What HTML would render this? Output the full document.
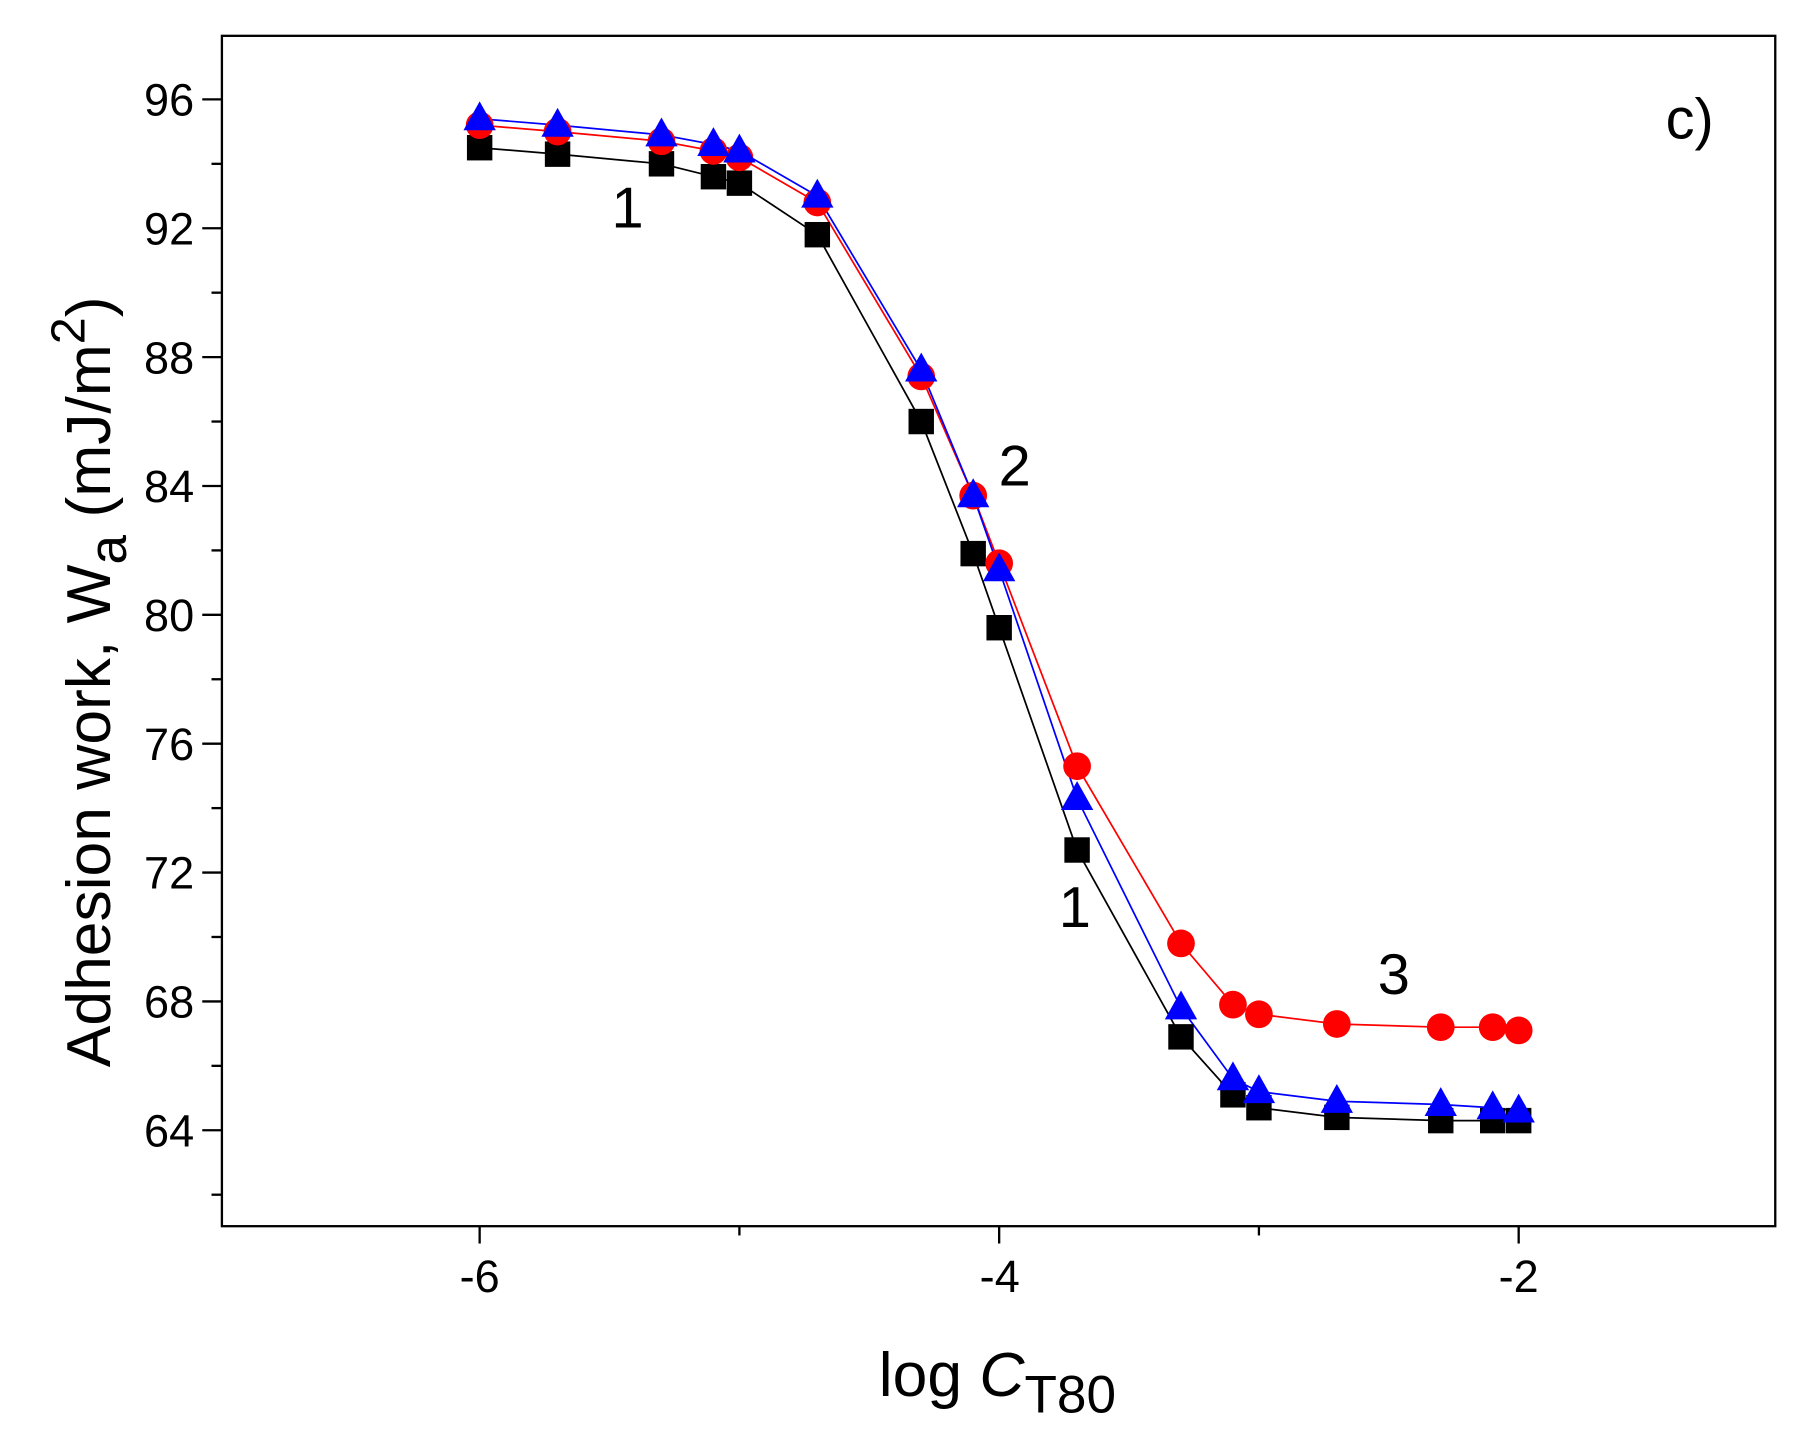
<!DOCTYPE html>
<html><head><meta charset="utf-8"><style>html,body{margin:0;padding:0;background:#fff}svg{display:block}</style></head>
<body>
<svg id="s" width="1803" height="1440" viewBox="0 0 1560 1246" preserveAspectRatio="none" xmlns="http://www.w3.org/2000/svg" font-family="Liberation Sans, Arial, sans-serif">
<rect x="192" y="31" width="1344" height="1030" fill="none" stroke="#000" stroke-width="2"/>
<g id="ticks" stroke="#000" stroke-width="2"></g>
<g font-size="39" text-anchor="end" id="ylab"></g>
<g font-size="39" text-anchor="middle">
<text x="415" y="1118">-6</text><text x="865" y="1118">-4</text><text x="1314" y="1118">-2</text>
</g>
<g id="series"></g>
<g font-size="50" text-anchor="middle">
<text x="543" y="197">1</text>
<text x="878" y="420">2</text>
<text x="930" y="802">1</text>
<text x="1206" y="860">3</text>
<text x="1462" y="120">c)</text>
</g>
<text x="863" y="1208" font-size="54" text-anchor="middle">log <tspan font-style="italic">C</tspan><tspan font-size="46" dy="14">T80</tspan></text>
<text transform="translate(95,590) rotate(-90)" font-size="54" text-anchor="middle">Adhesion work, W<tspan font-size="46" dy="14">a</tspan><tspan dy="-14"> (mJ/m</tspan><tspan font-size="42" dy="-22">2</tspan><tspan dy="22">)</tspan></text>
</svg>
<script>
const NS="http://www.w3.org/2000/svg";
const X=v=>415+(v+6)*224.75, Y=v=>86+(96-v)*27.875;
function el(p,t,a){const e=document.createElementNS(NS,t);for(const k in a)e.setAttribute(k,a[k]);p.appendChild(e);return e;}
const tk=document.getElementById('ticks'),yl=document.getElementById('ylab');
for(let v=62;v<=96;v+=2){const y=Y(v),maj=(v%4===0);el(tk,'line',{x1:maj?175:183,x2:192,y1:y,y2:y});if(maj){const t=el(yl,'text',{x:168,y:y+14});t.textContent=v;}}
for(let v=-6;v<=-2;v+=1){const x=X(v),maj=(v%2===0);el(tk,'line',{x1:x,x2:x,y1:1061,y2:maj?1076:1069});}
const xs=[-6,-5.7,-5.3,-5.1,-5,-4.7,-4.3,-4.1,-4,-3.7,-3.3,-3.1,-3,-2.7,-2.3,-2.1,-2];
const blk=[94.5,94.3,94.0,93.6,93.4,91.8,86,81.9,79.6,72.7,66.9,65.1,64.7,64.4,64.3,64.3,64.3];
const red=[95.2,95.0,94.7,94.4,94.2,92.8,87.4,83.7,81.6,75.3,69.8,67.9,67.6,67.3,67.2,67.2,67.1];
const blu=[95.4,95.2,94.9,94.6,94.4,93.0,87.6,83.7,81.4,74.3,67.8,65.6,65.2,64.9,64.8,64.7,64.6];
const sg=document.getElementById('series');
function line(d,c){el(sg,'polyline',{points:xs.map((x,i)=>X(x)+','+Y(d[i])).join(' '),fill:'none',stroke:c,'stroke-width':1.5});}
line(blk,'#000');line(red,'#f00');line(blu,'#00f');
xs.forEach((x,i)=>{el(sg,'rect',{x:X(x)-11,y:Y(blk[i])-11,width:22,height:22,fill:'#000'});});
xs.forEach((x,i)=>{el(sg,'circle',{cx:X(x),cy:Y(red[i]),r:12,fill:'#f00'});});
xs.forEach((x,i)=>{const cx=X(x),cy=Y(blu[i]);el(sg,'polygon',{points:`${cx},${cy-15} ${cx-14},${cy+10} ${cx+14},${cy+10}`,fill:'#00f'});});
</script>
</body></html>
